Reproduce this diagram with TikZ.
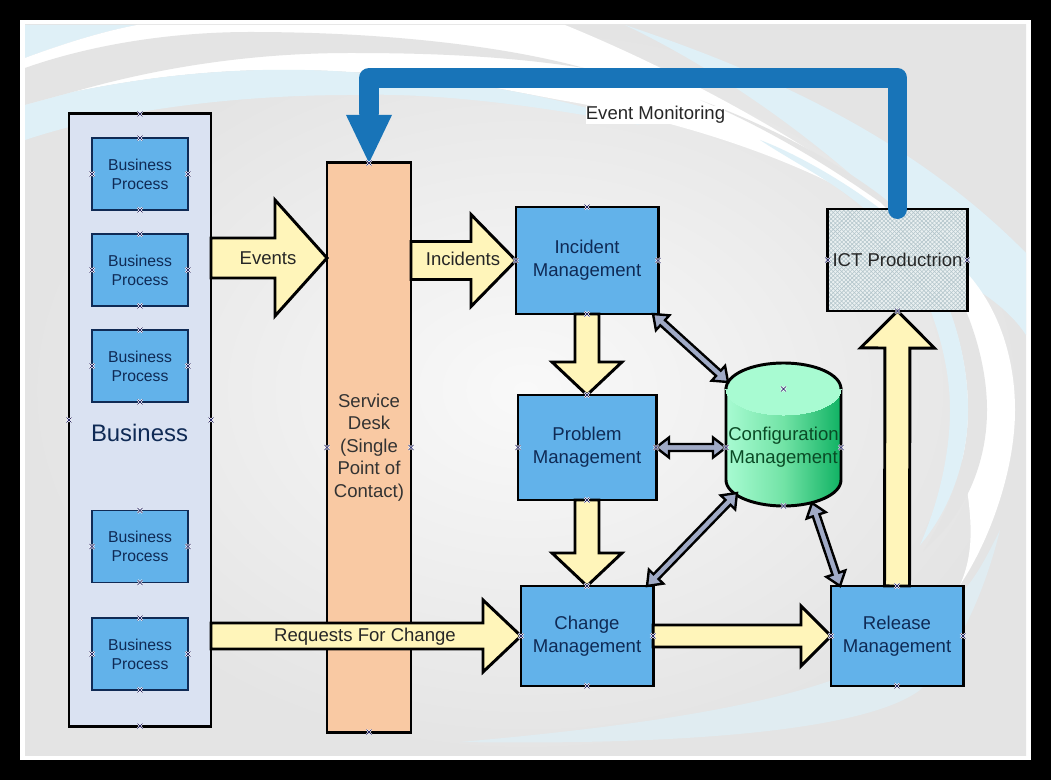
\documentclass[tikz,border=0pt]{standalone}
\usepackage{fontspec}
\setmainfont{Liberation Sans}
\usetikzlibrary{calc}
\usetikzlibrary{patterns}
\definecolor{panelgray}{HTML}{E4E4E4}
\definecolor{panellight}{HTML}{F9F9F9}
\definecolor{swooshblue}{HTML}{DFF0F7}
\definecolor{bizfill}{HTML}{DAE2F2}
\definecolor{procblue}{HTML}{62B2EA}
\definecolor{navytext}{HTML}{0F2A55}
\definecolor{deskfill}{HTML}{F9C9A3}
\definecolor{flowyellow}{HTML}{FFF5BA}
\definecolor{linkgray}{HTML}{A0AAC6}
\definecolor{monblue}{HTML}{1874B8}
\definecolor{cyltop}{HTML}{A8FBD2}
\definecolor{cylright}{HTML}{10B263}
\definecolor{cylmid}{HTML}{72E3A6}
\definecolor{cyltext}{HTML}{0A4A25}
\definecolor{ictfill}{HTML}{EAF0F1}
\definecolor{ictgrid}{HTML}{B4C6CC}
\newdimen\ux
\ux=.025cm
\tikzset{
  bigbox/.style={draw=black,line width=2.1pt,outer sep=0pt,align=center,font=\fontsize{13.2}{16.4}\selectfont},
  procbox/.style={bigbox,fill=procblue,text=navytext},
  subbox/.style={draw=navytext,line width=1pt,fill=procblue,text=navytext,outer sep=0pt,align=center,
    minimum width=2.4cm,minimum height=1.8cm,font=\fontsize{11.2}{13.5}\selectfont},
  flowarrow/.style={draw=black,line width=2.1pt,fill=flowyellow,miter limit=8},
  linkarrow/.style={draw=black,line width=1.7pt,fill=linkgray,miter limit=8},
  flowlabel/.style={inner sep=0pt,text=black!85,font=\fontsize{13.2}{16.4}\selectfont},
  handlea/.style={white,line width=1.3pt},
  handleb/.style={black!70!blue,line width=.35pt}
}
% block arrow: from, to, half shaft, half head, head length
\newcommand*\blockarrow[5]{
  \coordinate (ta) at (#1);
  \coordinate (tb) at (#2);
  \coordinate (tp) at ($(tb)!#5*\ux!(ta)$);
  \draw[flowarrow] ($(ta)!#3*\ux!90:(tb)$) -- ($(tp)!#3*\ux!90:(tb)$) -- ($(tp)!#4*\ux!90:(tb)$) -- (tb)
    -- ($(tp)!#4*\ux!-90:(tb)$) -- ($(tp)!#3*\ux!-90:(tb)$) -- ($(ta)!#3*\ux!-90:(tb)$) -- cycle;}
% double headed link: from, to
\newcommand*\linkarrow[2]{
  \coordinate (ta) at (#1);
  \coordinate (tb) at (#2);
  \coordinate (tp) at ($(tb)!13*\ux!(ta)$);
  \coordinate (tq) at ($(ta)!13*\ux!(tb)$);
  \draw[linkarrow] (ta) -- ($(tq)!10*\ux!90:(tb)$) -- ($(tq)!3.5*\ux!90:(tb)$) -- ($(tp)!3.5*\ux!-90:(ta)$)
    -- ($(tp)!10*\ux!-90:(ta)$) -- (tb) -- ($(tp)!10*\ux!90:(ta)$) -- ($(tp)!3.5*\ux!90:(ta)$)
    -- ($(tq)!3.5*\ux!-90:(tb)$) -- ($(tq)!10*\ux!-90:(tb)$) -- cycle;}
\newcommand*\handles[1]{
  \foreach \a in {north,south,east,west}{
    \draw[handlea] ($(#1.\a)+(-2.5,-2.5)$) -- ($(#1.\a)+(2.5,2.5)$);
    \draw[handlea] ($(#1.\a)+(-2.5,2.5)$) -- ($(#1.\a)+(2.5,-2.5)$);
    \draw[handleb] ($(#1.\a)+(-2.5,-2.5)$) -- ($(#1.\a)+(2.5,2.5)$);
    \draw[handleb] ($(#1.\a)+(-2.5,2.5)$) -- ($(#1.\a)+(2.5,-2.5)$);
  }}
\begin{document}
\begin{tikzpicture}[x=.025cm,y=-.025cm]
\useasboundingbox (0,0) rectangle (1051,780);
\fill [black] (0,0) rectangle (1051,780);
\fill [white] (20,20) rectangle (1031,760);
%background
\begin{scope}
\clip (25,25) rectangle (1026,755);
\shade [inner color=panellight,outer color=panelgray] (25,25) rectangle (1026,755);
\fill [swooshblue] (25,25) -- (137,25) .. controls (100,32) and (60,45) .. (25,58) -- cycle;
\fill [swooshblue] (625,25) .. controls (760,70) and (910,135) .. (1026,253) -- (1026,335) .. controls (1010,310) and (980,290) .. (960,280) .. controls (860,170) and (740,80) .. (625,25) -- cycle;
\fill [swooshblue!70!panelgray] (1000,530) .. controls (985,560) and (975,580) .. (955,600) .. controls (900,670) and (800,712) .. (460,742) .. controls (650,745) and (860,735) .. (920,690) .. controls (960,650) and (985,590) .. (1000,530) -- cycle;
\fill [white] (25,58) .. controls (60,45) and (100,32) .. (137,25) -- (565,25) .. controls (700,80) and (880,180) .. (967,273) .. controls (1000,310) and (1015,360) .. (1015,410) .. controls (1015,470) and (990,540) .. (960,585)
  .. controls (985,530) and (958,470) .. (958,410) .. controls (958,330) and (920,240) .. (880,210) .. controls (800,160) and (680,120) .. (560,100) .. controls (480,85) and (420,72) .. (350,72) .. controls (260,66) and (170,72) .. (73,92) -- (25,105) -- cycle;
% gray crescents
\fill [panelgray] (25,68) .. controls (90,45) and (170,32) .. (250,32) .. controls (380,32) and (500,45) .. (584,68) .. controls (500,55) and (420,53) .. (350,53) .. controls (260,53) and (167,65) .. (73,92) -- (25,105) -- cycle;
\fill [panelgray] (700,100) .. controls (780,130) and (840,165) .. (880,195) .. controls (950,250) and (987,340) .. (987,410) .. controls (987,470) and (960,520) .. (923,551) .. controls (950,510) and (968,460) .. (968,410) .. controls (968,330) and (930,250) .. (880,202) .. controls (820,160) and (760,125) .. (700,100) -- cycle;
% blue crescents
\fill [swooshblue] (25,105) -- (73,92) .. controls (170,72) and (260,66) .. (350,72) .. controls (450,78) and (560,95) .. (640,125) .. controls (560,110) and (450,92) .. (350,95) .. controls (260,95) and (130,105) .. (25,140) -- cycle;
\fill [swooshblue] (760,140) .. controls (800,155) and (860,190) .. (900,225) .. controls (940,270) and (968,340) .. (968,410) .. controls (968,460) and (950,510) .. (920,545) .. controls (940,500) and (950,450) .. (950,410) .. controls (950,340) and (915,250) .. (860,205) .. controls (830,180) and (790,160) .. (760,140) -- cycle;
\end{scope}
%business column
\node [bigbox,fill=bizfill,minimum width=3.55cm,minimum height=15.3cm] (biz) at (140,420) {};
\node [subbox] (bpa) at (140,174) {Business\\Process};
\node [subbox] (bpb) at (140,270) {Business\\Process};
\node [subbox] (bpc) at (140,366) {Business\\Process};
\node [subbox] (bpd) at (140,546.5) {Business\\Process};
\node [subbox] (bpe) at (140,654) {Business\\Process};
\node [inner sep=0pt,text=navytext,font=\fontsize{17}{20}\selectfont] (bizlabel) at (139.5,433) {Business};
%service desk
\node [bigbox,fill=deskfill,text=black!80,minimum width=2.1cm,minimum height=14.225cm,font=\fontsize{13.2}{16}\selectfont] (desk) at (369,447.5) {Service\\Desk\\(Single\\Point of\\Contact)};
%management boxes
\node [procbox,minimum width=3.55cm,minimum height=2.675cm] (incident) at (587,260.5) {Incident\\Management};
\node [procbox,minimum width=3.45cm,minimum height=2.625cm] (problem) at (587,447.5) {Problem\\Management};
\node [procbox,minimum width=3.3cm,minimum height=2.5cm] (change) at (587,636) {Change\\Management};
\node [procbox,minimum width=3.3cm,minimum height=2.5cm] (release) at (897,636) {Release\\Management};
\node [bigbox,preaction={fill=ictfill},pattern=crosshatch,pattern color=ictgrid,text=black!85,minimum width=3.475cm,minimum height=2.55cm] (ict) at (897.5,260) {ICT Productrion};
%cylinder
\draw [line width=2.1pt,left color=cyltop,right color=cylright,middle color=cylmid] (726,389) -- (726,480) .. controls (726,494.4) and (751.7,506) .. (783.5,506) .. controls (815.3,506) and (841,494.4) .. (841,480) -- (841,389) -- cycle;
\draw [line width=0pt,draw=cyltop,fill=cyltop] (783.5,389) ellipse [x radius=1.4375cm,y radius=.65cm];
\draw [line width=2.1pt] (726,389) .. controls (726,374.6) and (751.7,363) .. (783.5,363) .. controls (815.3,363) and (841,374.6) .. (841,389);
\node [inner sep=0pt,outer sep=0pt,minimum width=2.875cm,minimum height=2.925cm,align=center,text=cyltext,font=\fontsize{13.2}{16.4}\selectfont] (config) at (783.5,447.5) {Configuration\\Management};
%block arrows
\coordinate (evt) at (327,258);
\coordinate (rfc) at (521,636);
\blockarrow{biz.east |- evt}{evt}{20}{58}{52}
\blockarrow{desk.east |- incident.west}{incident.west}{19}{46}{45}
\blockarrow{biz.east |- rfc}{rfc}{13}{36}{38}
\blockarrow{change.east}{release.west}{11}{30}{30}
\blockarrow{incident.south}{problem.north}{12}{35}{33}
\blockarrow{problem.south}{change.north}{12}{35}{33}
\blockarrow{release.north}{ict.south}{12.5}{37}{37}
\node [flowlabel] (evlabel) at (268,258) {Events};
\node [flowlabel] (inlabel) at (463,259) {Incidents};
\node [flowlabel] (rfclabel) at (365,637) {Requests For Change};
%links to the cylinder
\coordinate (cfga) at (728,382);
\coordinate (cfgb) at (737,493);
\coordinate (cfgc) at (812,503);
\linkarrow{$(incident.south east)+(-5,0)$}{cfga}
\linkarrow{problem.east}{config.west}
\linkarrow{$(change.north east)+(-6,0)$}{cfgb}
\linkarrow{$(release.north west)+(9,0)$}{cfgc}
\handles{ict}
%event monitoring
\draw [monblue,line width=14.2pt,line join=round,line cap=round] (ict.north) -- (ict.north |- 0,78) -- (desk.north |- 0,78) -- ($(desk.north)+(0,-50)$);
\fill [monblue] (desk.north) -- ($(desk.north)+(-23,-48)$) -- ($(desk.north)+(23,-48)$) -- cycle;
\node [fill=white,inner sep=2pt,flowlabel] (monlabel) at (655.5,115) {Event Monitoring};
%handles
\handles{biz}
\handles{bpa}
\handles{bpb}
\handles{bpc}
\handles{bpd}
\handles{bpe}
\handles{desk}
\handles{incident}
\handles{problem}
\handles{change}
\handles{release}
\handles{config}
\end{tikzpicture}
\end{document}
